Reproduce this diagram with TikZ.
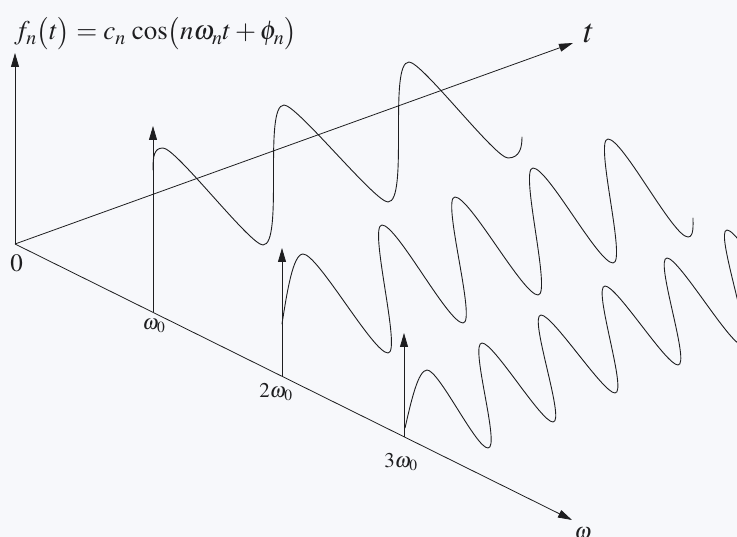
\documentclass[tikz,border=0pt]{standalone}
\usepackage{mathptmx}
\usetikzlibrary{arrows.meta}
\definecolor{ink}{RGB}{30,30,32}
\definecolor{paper}{RGB}{247,248,251}
\begin{document}
\begin{tikzpicture}[x=1pt,y=-1pt,
  axis/.style={draw=ink,line width=0.8pt,-{Triangle[length=14pt,width=8pt]}},
  wave/.style={draw=ink,line width=0.9pt,line join=round,line cap=round},
  lbl/.style={inner sep=0pt,text=ink}]
\clip (0,0) rectangle (737,537);
\fill[paper] (0,0) rectangle (737,537);
% axes
\coordinate (O) at (15,244);
\coordinate (ftip) at (15,53);
\coordinate (ttip) at (573,43);
\coordinate (wtip) at (572,520);
\draw[axis] (O) -- (ftip);
\draw[axis] (O) -- (ttip);
\draw[axis] (O) -- (wtip);
% harmonic arrows
\coordinate (a1base) at (153,312.4);
\coordinate (a1tip) at (153,126);
\coordinate (a2base) at (282,376.3);
\coordinate (a2tip) at (282,248);
\coordinate (a3base) at (404,436.7);
\coordinate (a3tip) at (404,333);
\draw[axis] (a1base) -- (a1tip);
\draw[axis] (a2base) -- (a2tip);
\draw[axis] (a3base) -- (a3tip);
% labels
\node[lbl,anchor=base west,font=\fontsize{27}{30}\selectfont] (formula) at (14,40)
  {$f_n\bigl(t\bigr)=c_n\,\cos\bigl(n\omega_n t+\phi_n\bigr)$};
\node[lbl,font=\fontsize{34}{36}\selectfont] (tlab) at (589,33) {$t$};
\node[lbl,font=\fontsize{25}{28}\selectfont] (zero) at (16.5,263.5) {$0$};
\node[lbl,font=\fontsize{21}{24}\selectfont] (w1) at (154,326) {$\omega_0$};
\node[lbl,font=\fontsize{21}{24}\selectfont] (w2) at (276,392) {$2\omega_0$};
\node[lbl,font=\fontsize{21}{24}\selectfont] (w3) at (401,462) {$3\omega_0$};
\node[lbl,anchor=north,font=\fontsize{22}{24}\selectfont] (wlab) at (583,527) {$\omega$};
% wave 1 (omega_0)
\draw[wave] (153,170) .. controls +(0,-14) and +(-9,0) .. (163,148)
  .. controls +(13,0) and +(-13,0) .. (263,245)
  .. controls +(21,0) and +(-21,0) .. (284,105)
  .. controls +(13,0) and +(-13,0) .. (388,202)
  .. controls +(21,0) and +(-21,0) .. (409,62)
  .. controls +(13,0) and +(-13,0) .. (508,158)
  .. controls +(12,0) and +(0,10) .. (522,137);
% wave 2 (2 omega_0)
\draw[wave] (282,324) .. controls +(5,-32) and +(-10,0) .. (303,254)
  .. controls +(15,0) and +(-15,0) .. (388,353)
  .. controls +(14,0) and +(-14,0) .. (382,225)
  .. controls +(15,0) and +(-15,0) .. (463,323)
  .. controls +(14,0) and +(-14,0) .. (455,197)
  .. controls +(15,0) and +(-15,0) .. (538,295)
  .. controls +(14,0) and +(-14,0) .. (533,168)
  .. controls +(15,0) and +(-15,0) .. (613,263)
  .. controls +(14,0) and +(-14,0) .. (608,139)
  .. controls +(15,0) and +(-15,0) .. (688,237)
  .. controls +(6,0) and +(0,7) .. (693,218);
% wave 3 (3 omega_0)
\draw[wave] (405,428) .. controls +(6,-26) and +(-9,0) .. (427,370)
  .. controls +(12,0) and +(-12,0) .. (488,448)
  .. controls +(13,0) and +(-13,0) .. (482,343)
  .. controls +(12,0) and +(-12,0) .. (553,422)
  .. controls +(13,0) and +(-13,0) .. (541,315)
  .. controls +(12,0) and +(-12,0) .. (615,393)
  .. controls +(13,0) and +(-13,0) .. (605,286)
  .. controls +(12,0) and +(-12,0) .. (678,365)
  .. controls +(13,0) and +(-13,0) .. (667,258)
  .. controls +(12,0) and +(-12,0) .. (742,345)
  .. controls +(13,0) and +(-13,0) .. (727,230)
  .. controls +(12,0) and +(-12,0) .. (800,318);
\end{tikzpicture}
\end{document}
